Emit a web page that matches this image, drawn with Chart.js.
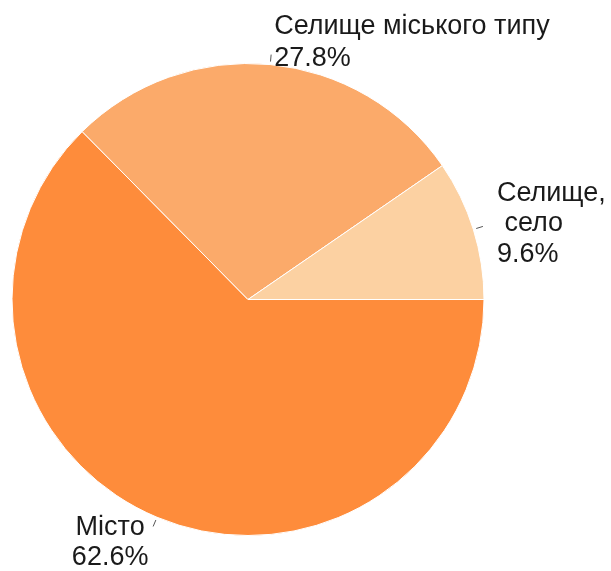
<!DOCTYPE html>
<html>
<head>
<meta charset="utf-8">
<script src="https://cdn.jsdelivr.net/npm/chart.js@4/dist/chart.umd.min.js"></script>
<style>
html,body{margin:0;padding:0;background:#fff;}
canvas{display:block;}
</style>
</head>
<body>
<canvas id="c" width="611" height="571"></canvas>
<script>
const categories = ['Місто', 'Селище міського типу', 'Селище, село'];
const shares = [62.6, 27.8, 9.6];
const labelLines = [['Місто'], ['Селище міського типу'], ['Селище,', ' село']];
const sliceColors = ['#FE8C3B', '#FBAA6A', '#FCD1A2'];

// label placement (style): align, dx from leader end, dy of first line middle, line height
const labelStyle = [
  {align: 'center', dx: -43, dy: 1, lh: 30},
  {align: 'left', dx: 3, dy: -28, lh: 32},
  {align: 'left', dx: 14, dy: -33, lh: 30.5}
];
const FONT = '27px "Liberation Sans", Arial, sans-serif';

const pieLabels = {
  id: 'pieLabels',
  afterDatasetsDraw(chart) {
    const ctx = chart.ctx;
    const meta = chart.getDatasetMeta(0);
    ctx.save();
    meta.data.forEach((arc, i) => {
      const p = arc.getProps(['x','y','startAngle','endAngle','outerRadius'], true);
      const mid = (p.startAngle + p.endAngle) / 2;
      const c = Math.cos(mid), s = Math.sin(mid);
      const x1 = p.x + c * (p.outerRadius + 3), y1 = p.y + s * (p.outerRadius + 3);
      const x2 = p.x + c * (p.outerRadius + 10), y2 = p.y + s * (p.outerRadius + 10);
      ctx.strokeStyle = '#555';
      ctx.lineWidth = 1;
      ctx.beginPath(); ctx.moveTo(x1, y1); ctx.lineTo(x2, y2); ctx.stroke();
      const st = labelStyle[i];
      const lines = labelLines[i].concat([shares[i].toFixed(1) + '%']);
      ctx.font = FONT;
      ctx.fillStyle = '#1a1a1a';
      ctx.textAlign = st.align;
      ctx.textBaseline = 'middle';
      lines.forEach((t, k) => {
        ctx.fillText(t, x2 + st.dx, y2 + st.dy + k * st.lh);
      });
    });
    ctx.restore();
  }
};

new Chart(document.getElementById('c'), {
  type: 'pie',
  data: {
    labels: categories,
    datasets: [{
      data: shares,
      backgroundColor: sliceColors,
      borderColor: '#ffffff',
      borderWidth: 1
    }]
  },
  options: {
    responsive: false,
    animation: false,
    rotation: 90,
    layout: {padding: {left: 11, right: 126, top: 63, bottom: 35}},
    plugins: {legend: {display: false}, tooltip: {enabled: false}}
  },
  plugins: [pieLabels]
});
</script>
</body>
</html>
